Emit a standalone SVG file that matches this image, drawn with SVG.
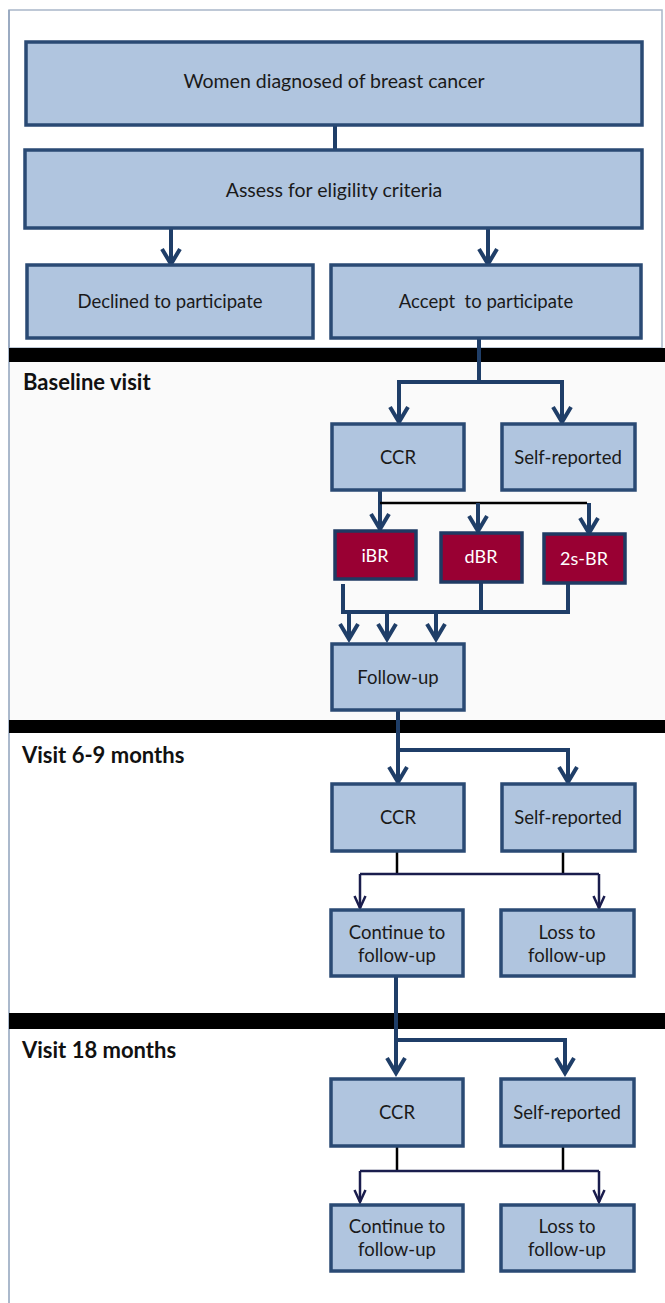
<svg xmlns="http://www.w3.org/2000/svg" width="665" height="1303" viewBox="0 0 665 1303">
<defs>
<style>
.box{fill:#b0c5df;stroke:#2a4a74;stroke-width:3.5}
.red{fill:#990033;stroke:#1f3a63;stroke-width:3.5}
.t{font-family:"Lato","Liberation Sans",sans-serif;font-size:18.5px;fill:#1a1a1a;text-anchor:middle}
.tb{font-size:19.5px}
.tw{font-family:"Lato","Liberation Sans",sans-serif;font-size:18px;fill:#ffffff;text-anchor:middle}
.h{font-family:"Lato","Liberation Sans",sans-serif;font-size:22px;font-weight:bold;fill:#111111}
.c{fill:none;stroke:#1f3e68;stroke-width:4}
.ca{fill:none;stroke:#1f3e68;stroke-width:4;marker-end:url(#ah)}
.k{fill:none;stroke:#000000;stroke-width:2.5}
.n{fill:none;stroke:#1a1d4d;stroke-width:2.5}
.na{fill:none;stroke:#1a1d4d;stroke-width:2.5;marker-end:url(#ahs)}
.band{fill:#000000}
</style>
<marker id="ah" markerUnits="userSpaceOnUse" viewBox="-20 -12 24 24" refX="0" refY="0" markerWidth="24" markerHeight="24" orient="auto" overflow="visible">
<path d="M-15,-9 L0,0 L-15,9" fill="none" stroke="#1f3e68" stroke-width="4"/>
</marker>
<marker id="ahs" markerUnits="userSpaceOnUse" viewBox="-16 -8 18 16" refX="0" refY="0" markerWidth="18" markerHeight="16" orient="auto" overflow="visible">
<path d="M-12,-5.5 L0,0 L-12,5.5" fill="none" stroke="#1a1d4d" stroke-width="2.5"/>
</marker>
</defs>
<rect x="0" y="0" width="665" height="1303" fill="#ffffff"/>
<g id="panels">
<rect x="9" y="10" width="653" height="338" fill="#ffffff" stroke="#a9b7c9" stroke-width="1.5"/>
<rect x="9" y="362" width="656" height="358" fill="#fafafa"/>
<line x1="9" y1="10" x2="9" y2="1303" stroke="#8fa2bb" stroke-width="1.5"/>
<rect class="band" x="9" y="348" width="656" height="14"/>
<rect class="band" x="9" y="720" width="656" height="13"/>
<rect class="band" x="9" y="1013" width="656" height="16"/>
</g>
<g id="section-labels">
<text class="h" x="23" y="390">Baseline visit</text>
<text class="h" x="22" y="763">Visit 6-9 months</text>
<text class="h" x="22" y="1058">Visit 18 months</text>
</g>
<g id="connectors">
<path class="c" d="M335,125 V150"/>
<path class="ca" d="M171,228 V264"/>
<path class="ca" d="M488,228 V264"/>
<path class="c" d="M479,338 V382" stroke-width="5"/>
<path class="ca" d="M479,382 H399 V422"/>
<path class="ca" d="M479,382 H562 V422"/>
<path class="ca" d="M380,490 V529"/>
<path class="k" d="M380,503 H587"/>
<path class="ca" d="M478,503 V531"/>
<path class="ca" d="M589,503 V533"/>
<path class="c" d="M343,584 V612 H568 V583"/>
<path class="c" d="M481,582 V612"/>
<path class="ca" d="M349,612 V639"/>
<path class="ca" d="M387,612 V639"/>
<path class="ca" d="M436,612 V639"/>
<path class="ca" d="M398,710 V782"/>
<path class="ca" d="M398,750 H568 V782"/>
<path class="k" d="M397,851 V874"/>
<path class="k" d="M563,851 V874"/>
<path class="n" d="M360,874 H599"/>
<path class="na" d="M360,874 V908"/>
<path class="na" d="M599,874 V908"/>
<path class="ca" d="M396,976 V1073"/>
<path class="ca" d="M396,1040 H565 V1073"/>
<path class="k" d="M397,1146 V1171"/>
<path class="k" d="M563,1146 V1171"/>
<path class="n" d="M360,1171 H599"/>
<path class="na" d="M360,1171 V1202"/>
<path class="na" d="M599,1171 V1202"/>
</g>
<g id="women"><rect class="box" x="26" y="42" width="616" height="83"/><text class="t tb" x="334" y="88">Women diagnosed of breast cancer</text></g>
<g id="assess"><rect class="box" x="25" y="150" width="617" height="78"/><text class="t tb" x="334" y="197">Assess for eligility criteria</text></g>
<g id="declined"><rect class="box" x="27" y="265" width="286" height="73"/><text class="t" x="170" y="308">Declined to participate</text></g>
<g id="accept"><rect class="box" x="331" y="265" width="310" height="73"/><text class="t" x="486" y="308" xml:space="preserve">Accept  to participate</text></g>
<g id="ccr1"><rect class="box" x="332" y="424" width="132" height="66"/><text class="t" x="398" y="464">CCR</text></g>
<g id="self1"><rect class="box" x="502" y="424" width="133" height="66"/><text class="t" x="568" y="464">Self-reported</text></g>
<g id="ibr"><rect class="red" x="335" y="531" width="81" height="48"/><text class="tw" x="375" y="562">iBR</text></g>
<g id="dbr"><rect class="red" x="441" y="533" width="81" height="49"/><text class="tw" x="481" y="563">dBR</text></g>
<g id="2sbr"><rect class="red" x="544" y="534" width="81" height="49"/><text class="tw" x="584" y="565">2s-BR</text></g>
<g id="followup"><rect class="box" x="332" y="644" width="132" height="66"/><text class="t" x="398" y="684">Follow-up</text></g>
<g id="ccr2"><rect class="box" x="332" y="784" width="132" height="67"/><text class="t" x="398" y="824">CCR</text></g>
<g id="self2"><rect class="box" x="502" y="784" width="133" height="67"/><text class="t" x="568" y="824">Self-reported</text></g>
<g id="cont2"><rect class="box" x="331" y="910" width="132" height="66"/><text class="t" x="397" y="939">Continue to</text><text class="t" x="397" y="962">follow-up</text></g>
<g id="loss2"><rect class="box" x="501" y="910" width="133" height="66"/><text class="t" x="567" y="939">Loss to</text><text class="t" x="567" y="962">follow-up</text></g>
<g id="ccr3"><rect class="box" x="331" y="1079" width="132" height="67"/><text class="t" x="397" y="1119">CCR</text></g>
<g id="self3"><rect class="box" x="501" y="1079" width="133" height="67"/><text class="t" x="567" y="1119">Self-reported</text></g>
<g id="cont3"><rect class="box" x="331" y="1205" width="132" height="66"/><text class="t" x="397" y="1233">Continue to</text><text class="t" x="397" y="1256">follow-up</text></g>
<g id="loss3"><rect class="box" x="501" y="1205" width="133" height="66"/><text class="t" x="567" y="1233">Loss to</text><text class="t" x="567" y="1256">follow-up</text></g>
</svg>
